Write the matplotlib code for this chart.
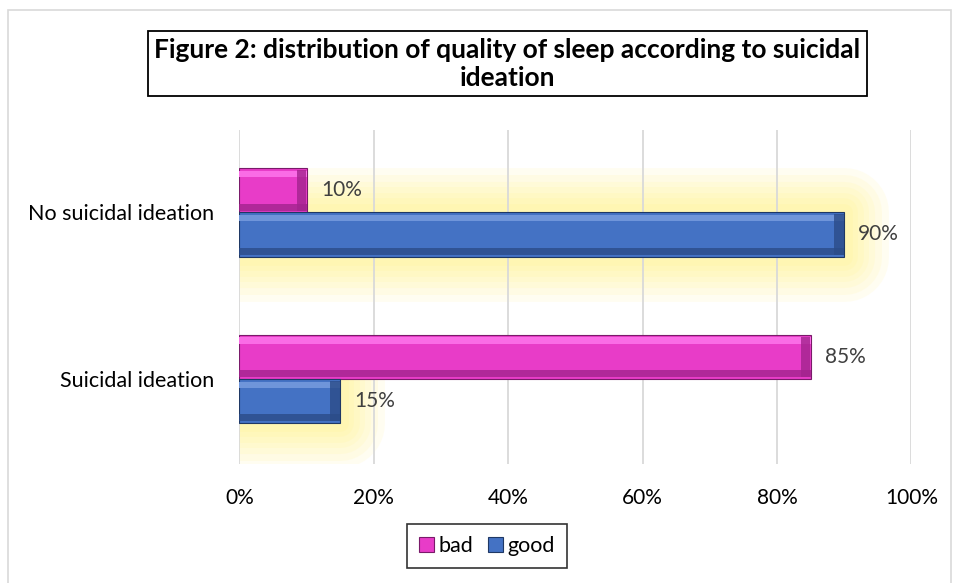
import matplotlib.pyplot as plt
import matplotlib.patheffects as pe
from matplotlib.patches import Rectangle
import numpy as np

# данные
categories = ["Suicidal ideation", "No suicidal ideation"]
bad = [85, 10]
good = [15, 90]
series_names = ["bad", "good"]
tick_labels = ["0%", "20%", "40%", "60%", "80%", "100%"]

pink = "#E83CC8"
blue = "#4472C4"
txt = "#404040"

plt.rcParams["font.family"] = ["Lato", "DejaVu Sans"]

fig = plt.figure(figsize=(9.59, 5.83), dpi=100)
# рамка вокруг всей диаграммы
fig.patches.append(Rectangle((0.008, -0.01), 0.984, 0.993, transform=fig.transFigure,
                             fill=False, edgecolor="#D9D9D9", linewidth=1.2))

ax = fig.add_axes([0.2497, 0.2041, 0.7007, 0.5729])

y = np.arange(len(categories))
h = 0.265

# жёлтое свечение вокруг синих столбиков
glow = [pe.Stroke(linewidth=w, foreground="#FFF06A", alpha=0.09, joinstyle="round")
        for w in (64, 54, 44, 36, 28, 20, 12)]
gb = ax.barh(y - h / 2, good, height=h, color="#FFF06A", linewidth=0, zorder=1)
for b in gb:
    b.set_path_effects(glow + [pe.Normal()])

bars_bad = ax.barh(y + h / 2, bad, height=h, color=pink, edgecolor="#7A1A6A",
                   linewidth=0.8, label=series_names[0], zorder=3)
bars_good = ax.barh(y - h / 2, good, height=h, color=blue, edgecolor="#1F3864",
                    linewidth=0.8, label=series_names[1], zorder=3)

# объём: светлая полоса сверху, тёмная снизу и справа
for bars, light, dark in [(bars_bad, "#FA6CE6", "#A3238E"), (bars_good, "#6F95DA", "#2B4C88")]:
    for b in bars:
        x0, y0, w, hh = b.get_x(), b.get_y(), b.get_width(), b.get_height()
        ax.barh(y0 + hh * 0.80, w, height=hh * 0.14, left=x0, color=light,
                linewidth=0, zorder=4, align="edge")
        ax.barh(y0 + hh * 0.04, w, height=hh * 0.16, left=x0, color=dark,
                linewidth=0, zorder=4, align="edge", alpha=0.8)
        ax.barh(y0 + hh * 0.04, 1.4, height=hh * 0.92, left=x0 + w - 1.5,
                color=dark, linewidth=0, zorder=4, align="edge", alpha=0.8)

for vals, off in [(bad, h / 2), (good, -h / 2)]:
    for i, v in enumerate(vals):
        ax.text(v + 2.1, y[i] + off, f"{v}%", va="center", ha="left",
                fontsize=15, color=txt, zorder=5)

ax.set_xlim(0, 100)
ax.set_ylim(-0.51, 1.494)
ax.set_xticks([0, 20, 40, 60, 80, 100])
ax.set_xticklabels(tick_labels, fontsize=15, color="black")
ax.set_yticks(y)
ax.set_yticklabels(categories, fontsize=15.5, color="black")
ax.tick_params(axis="x", length=0, pad=17)
ax.tick_params(axis="y", length=0, pad=18)
ax.grid(axis="x", color="#D9D9D9", linewidth=1.3, zorder=0)
for s in ax.spines.values():
    s.set_visible(False)

fig.text(0.529, 0.891, "Figure 2: distribution of quality of sleep according to suicidal\nideation",
         ha="center", va="center", fontsize=19, fontweight="bold", color="black",
         linespacing=1.2,
         bbox=dict(boxstyle="square,pad=0.25", facecolor="white", edgecolor="black", linewidth=1.3))

leg = fig.legend(loc="center", bbox_to_anchor=(0.508, 0.064), ncol=2, fontsize=15.5,
                 frameon=True, fancybox=False, edgecolor="black", handlelength=0.7,
                 handleheight=0.7, handletextpad=0.2, columnspacing=0.7, borderpad=0.55)
leg.get_frame().set_linewidth(1.2)

fig.savefig("out.png", dpi=100)
